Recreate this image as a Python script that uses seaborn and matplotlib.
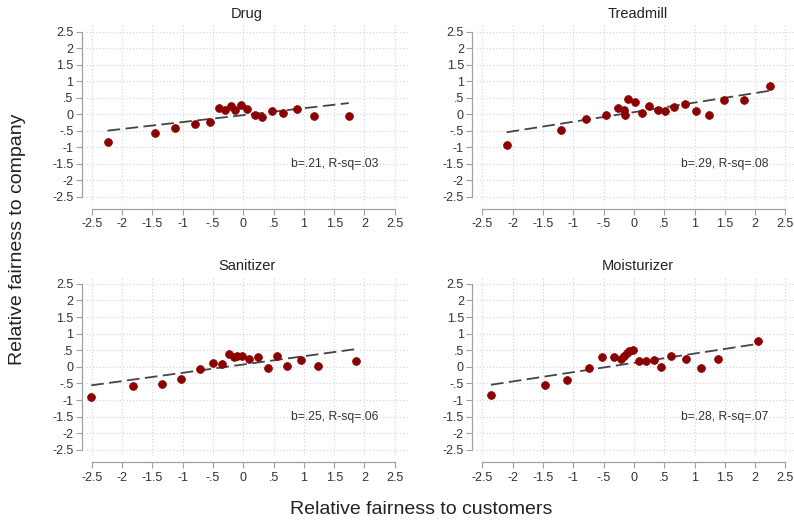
import numpy as np
import pandas as pd
import matplotlib
matplotlib.use("Agg")
import matplotlib.pyplot as plt
import seaborn as sns

sns.set_theme(style="white")
plt.rcParams['font.family'] = ['Liberation Sans', 'DejaVu Sans']

panels = ["Drug", "Treadmill", "Sanitizer", "Moisturizer"]

drug_x = [-2.24, -1.45, -1.12, -0.79, -0.55, -0.40, -0.30, -0.20, -0.13, -0.04, 0.06, 0.19, 0.31, 0.47, 0.66, 0.89, 1.16, 1.74]
drug_y = [-0.83, -0.57, -0.43, -0.31, -0.23, 0.19, 0.12, 0.24, 0.14, 0.27, 0.15, -0.02, -0.08, 0.09, 0.03, 0.17, -0.06, -0.05]

tread_x = [-2.10, -1.20, -0.79, -0.46, -0.27, -0.16, -0.14, -0.09, 0.02, 0.13, 0.25, 0.39, 0.52, 0.66, 0.84, 1.03, 1.24, 1.49, 1.81, 2.24]
tread_y = [-0.95, -0.48, -0.16, -0.03, 0.20, 0.12, -0.03, 0.45, 0.36, 0.03, 0.24, 0.12, 0.09, 0.21, 0.31, 0.11, -0.03, 0.43, 0.43, 0.85]

sanit_x = [-2.51, -1.82, -1.34, -1.02, -0.72, -0.50, -0.35, -0.24, -0.16, -0.11, -0.02, 0.10, 0.25, 0.40, 0.55, 0.72, 0.95, 1.23, 1.86]
sanit_y = [-0.90, -0.57, -0.53, -0.36, -0.08, 0.12, 0.10, 0.40, 0.30, 0.34, 0.32, 0.24, 0.29, -0.03, 0.33, 0.04, 0.22, 0.04, 0.19]

moist_x = [-2.36, -1.46, -1.10, -0.75, -0.52, -0.33, -0.21, -0.16, -0.11, -0.08, -0.02, 0.09, 0.20, 0.33, 0.45, 0.61, 0.86, 1.10, 1.39, 2.04]
moist_y = [-0.84, -0.55, -0.39, -0.04, 0.29, 0.29, 0.25, 0.34, 0.43, 0.47, 0.51, 0.17, 0.17, 0.22, 0.01, 0.32, 0.23, -0.03, 0.24, 0.79]

fit_intercepts = [-0.03, 0.06, 0.07, 0.12]
fit_slopes = [0.21, 0.29, 0.25, 0.28]
fit_labels = ["b=.21, R-sq=.03", "b=.29, R-sq=.08", "b=.25, R-sq=.06", "b=.28, R-sq=.07"]

tick_vals = [-2.5, -2, -1.5, -1, -0.5, 0, 0.5, 1, 1.5, 2, 2.5]
tick_labels = ["-2.5", "-2", "-1.5", "-1", "-.5", "0", ".5", "1", "1.5", "2", "2.5"]

xs = [drug_x, tread_x, sanit_x, moist_x]
ys = [drug_y, tread_y, sanit_y, moist_y]

fig = plt.figure(figsize=(7.94, 5.21), dpi=100)
fig.patch.set_facecolor("white")

positions = [
    (0.108, 0.610, 0.406, 0.345),
    (0.600, 0.610, 0.406, 0.345),
    (0.108, 0.124, 0.406, 0.347),
    (0.600, 0.124, 0.406, 0.347),
]

spine_col = "#a0a0a0"
for i, name in enumerate(panels):
    ax = fig.add_axes(positions[i])
    df = pd.DataFrame({"x": xs[i], "y": ys[i]})
    ax.set_xlim(-2.6, 2.72)
    ax.set_ylim(-2.7, 2.75)
    for t in tick_vals:
        ax.axhline(t, color="#d2d2d2", lw=0.8, ls=(0, (1, 2)), zorder=0)
        ax.axvline(t, color="#d2d2d2", lw=0.8, ls=(0, (1, 2)), zorder=0)
    xline = np.array([min(xs[i]), max(xs[i])])
    line_df = pd.DataFrame({"x": xline, "y": fit_intercepts[i] + fit_slopes[i] * xline})
    sns.lineplot(data=line_df, x="x", y="y", ax=ax, color="#444444", lw=1.3,
                 dashes=False, zorder=2)
    ax.lines[-1].set_dashes([7, 3])
    sns.scatterplot(data=df, x="x", y="y", ax=ax, color="#8b0000", s=32,
                    edgecolor="#8b0000", linewidth=0.5, zorder=3)
    ax.text(0.78, -1.5, fit_labels[i], ha="left", va="center", fontsize=8.7, color="#333333")
    ax.set_title(name, fontsize=10.5, color="#222222", pad=4)
    ax.set_xticks(tick_vals)
    ax.set_xticklabels(tick_labels)
    ax.set_yticks(tick_vals)
    ax.set_yticklabels(tick_labels)
    ax.tick_params(axis="both", labelsize=9, colors="#333333", length=4,
                   width=0.8, color=spine_col, direction="out", pad=2, left=True, bottom=True)
    ax.tick_params(axis="x", pad=3)
    ax.set_xlabel("")
    ax.set_ylabel("")
    for s in ["top", "right"]:
        ax.spines[s].set_visible(False)
    ax.spines["left"].set_position(("outward", 3))
    ax.spines["bottom"].set_position(("outward", 4))
    ax.spines["left"].set_bounds(-2.5, 2.5)
    ax.spines["bottom"].set_bounds(-2.5, 2.5)
    for s in ["left", "bottom"]:
        ax.spines[s].set_color(spine_col)
        ax.spines[s].set_linewidth(0.9)
    ax.set_facecolor("white")

fig.text(0.53, 0.022, "Relative fairness to customers", ha="center", va="center",
         fontsize=14, color="#222222")
fig.text(0.022, 0.54, "Relative fairness to company", ha="center", va="center",
         rotation=90, fontsize=14, color="#222222")

fig.savefig("out.png", dpi=100, facecolor="white")
